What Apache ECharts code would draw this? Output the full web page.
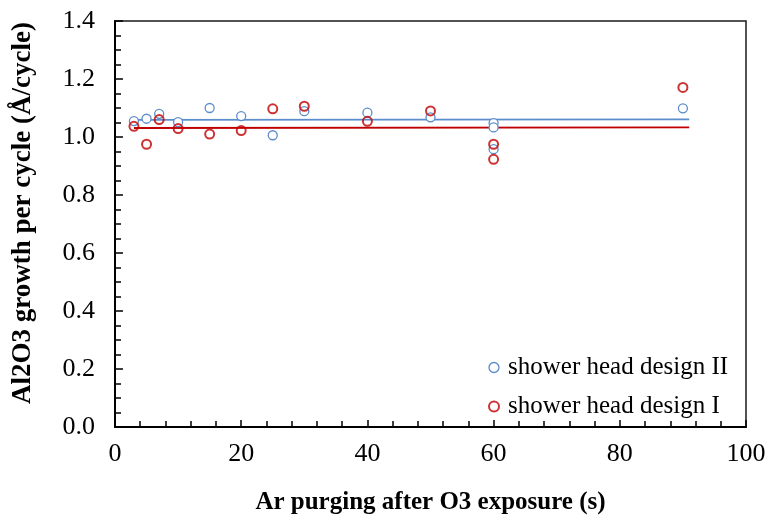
<!DOCTYPE html>
<html>
<head>
<meta charset="utf-8">
<script src="https://cdn.jsdelivr.net/npm/echarts@6/dist/echarts.min.js"></script>
<style>
  html, body { margin: 0; padding: 0; background: #fff; }
  #chart { width: 769px; height: 516px; }
</style>
</head>
<body>
<div id="chart"></div>
<script>
// Purge time after O3 exposure (s) and growth per cycle (Å/cycle)
const designIIx = [3, 5, 7, 10, 15, 20, 25, 30, 40, 50, 60, 60, 60, 90];
const designIIy = [1.055, 1.063, 1.080, 1.051, 1.100, 1.072, 1.006, 1.089, 1.084, 1.068, 1.048, 1.033, 0.958, 1.099];
const designIx = [3, 5, 7, 10, 15, 20, 25, 30, 40, 50, 60, 60, 90];
const designIy = [1.037, 0.975, 1.060, 1.029, 1.010, 1.022, 1.097, 1.106, 1.054, 1.090, 0.975, 0.923, 1.171];

// Linear trendline end points
const trendIIx = [3, 91];
const trendIIy = [1.059, 1.061];
const trendIx = [3, 91];
const trendIy = [1.031, 1.033];

const xTicks = [0, 20, 40, 60, 80, 100];
const yTicks = [0.0, 0.2, 0.4, 0.6, 0.8, 1.0, 1.2, 1.4];

const BLUE = '#5b8ccb';
const RED = '#c00000';
const FONT = '"Liberation Serif", "DejaVu Serif", serif';

const zip = (xs, ys) => xs.map((x, i) => [x, ys[i]]);

const chart = echarts.init(document.getElementById('chart'), null, { renderer: 'canvas' });
chart.setOption({
  animation: false,
  backgroundColor: '#fff',
  textStyle: { fontFamily: FONT },
  grid: {
    left: 115, right: 23, top: 21, bottom: 89,
    containLabel: false, outerBoundsMode: 'none',
    show: true, borderColor: '#1a1a1a', borderWidth: 1.5, backgroundColor: 'transparent'
  },
  legend: {
    orient: 'vertical',
    left: 488, top: 355,
    padding: 0,
    itemGap: 14,
    itemWidth: 10, itemHeight: 10,
    textStyle: { fontFamily: FONT, fontSize: 25, color: '#000', padding: [0, 0, 0, 4] },
    data: [
      { name: 'shower head design II', icon: 'circle', itemStyle: { color: 'transparent', borderColor: BLUE, borderWidth: 1.3 } },
      { name: 'shower head design I', icon: 'circle', itemStyle: { color: 'transparent', borderColor: RED, borderWidth: 2 } }
    ]
  },
  xAxis: {
    type: 'value',
    min: xTicks[0], max: xTicks[xTicks.length - 1], interval: 20,
    name: 'Ar purging after O3 exposure (s)',
    nameLocation: 'middle', nameGap: 63,
    nameTextStyle: { fontFamily: FONT, fontSize: 25, fontWeight: 'bold', color: '#000' },
    axisLine: { lineStyle: { color: '#000', width: 2 } },
    axisTick: { inside: true, length: 7, lineStyle: { color: '#000', width: 1.5 } },
    minorTick: { show: true, splitNumber: 5, length: 6, lineStyle: { color: '#000', width: 1.5 } },
    axisLabel: { fontFamily: FONT, fontSize: 26, color: '#000', margin: 14 },
    splitLine: { show: false }
  },
  yAxis: {
    type: 'value',
    min: yTicks[0], max: yTicks[yTicks.length - 1], interval: 0.2,
    name: 'Al2O3 growth per cycle (Å/cycle)',
    nameLocation: 'middle', nameGap: 78,
    nameTextStyle: { fontFamily: FONT, fontSize: 27, fontWeight: 'bold', color: '#000', padding: [0, 0, 0, 22] },
    axisLine: { lineStyle: { color: '#000', width: 2 } },
    axisTick: { inside: true, length: 8, lineStyle: { color: '#000', width: 1.5 } },
    minorTick: { show: true, splitNumber: 4, length: 6, lineStyle: { color: '#000', width: 1.5 } },
    axisLabel: { fontFamily: FONT, fontSize: 26, color: '#000', margin: 20, formatter: v => v.toFixed(1) },
    splitLine: { show: false }
  },
  series: [
    {
      name: 'trend II', type: 'line', data: zip(trendIIx, trendIIy),
      symbol: 'none', lineStyle: { color: BLUE, width: 1.8 }, z: 1, silent: true
    },
    {
      name: 'trend I', type: 'line', data: zip(trendIx, trendIy),
      symbol: 'none', lineStyle: { color: RED, width: 1.8 }, z: 1, silent: true
    },
    {
      name: 'shower head design II', type: 'scatter', data: zip(designIIx, designIIy),
      symbol: 'circle', symbolSize: 9,
      itemStyle: { color: '#fff', opacity: 1, borderColor: BLUE, borderWidth: 1.3 }, z: 2
    },
    {
      name: 'shower head design I', type: 'scatter', data: zip(designIx, designIy),
      symbol: 'circle', symbolSize: 9,
      itemStyle: { color: 'rgba(255,255,255,0)', borderColor: RED, borderWidth: 2 }, z: 3
    }
  ]
});
</script>
</body>
</html>
